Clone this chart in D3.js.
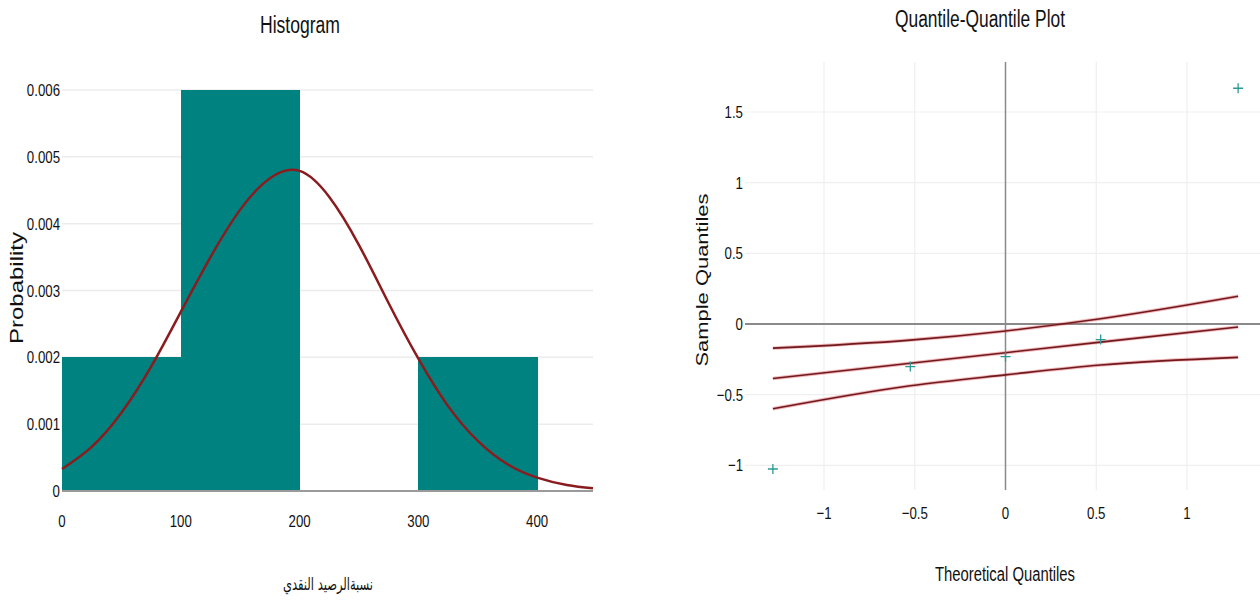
<!DOCTYPE html>
<html>
<head>
<meta charset="utf-8">
<script src="https://cdn.jsdelivr.net/npm/d3@7"></script>
<style>
html,body{margin:0;padding:0;background:#fff;}
svg{display:block;}
.narrow{font-family:"Liberation Sans Narrow","Arial Narrow","Liberation Sans",Arial,sans-serif;fill:#111;}
.wide{font-family:"Liberation Sans",Arial,sans-serif;fill:#111;}
</style>
</head>
<body>
<svg id="chart" width="1260" height="600"></svg>
<script>
// ---------- Histogram data ----------
const binStarts = [0, 100, 200, 300];
const binEnds   = [100, 200, 300, 400];
const binDensity = [0.002, 0.006, 0, 0.002];
const histYTicks = [0, 0.001, 0.002, 0.003, 0.004, 0.005, 0.006];
const histXTicks = [0, 100, 200, 300, 400];
// fitted normal density curve
const curveX = [0, 25, 50, 75, 100, 125, 150, 175, 200, 225, 250, 275, 300, 325, 350, 375, 400, 425, 447];
const curveY = [0.00033, 0.00066, 0.00117, 0.00186, 0.00268, 0.00350, 0.00421, 0.00468, 0.00479, 0.00440, 0.00368, 0.00281, 0.00198, 0.00127, 0.00075, 0.00040, 0.00020, 0.00009, 0.00004];

// ---------- Q-Q data ----------
const theoQ  = [-1.2816, -0.5244, 0, 0.5244, 1.2816];
const sampleQ = [-1.026, -0.301, -0.231, -0.110, 1.668];
const fitLine = [-0.386, -0.278, -0.203, -0.128, -0.021];
const upperBand = [-0.171, -0.114, -0.049, 0.037, 0.196];
const lowerBand = [-0.600, -0.437, -0.360, -0.290, -0.236];
const qqXTicks = [-1, -0.5, 0, 0.5, 1];
const qqYTicks = [-1, -0.5, 0, 0.5, 1, 1.5];

const svg = d3.select("#chart");
const teal = "#008380";
const curveColor = "#8a1c1f";
const SX = 0.78; // horizontal condensing of tick labels

// ================= Histogram =================
const hx = d3.scaleLinear().domain([0, 447]).range([62, 593]);
const hy = d3.scaleLinear().domain([0, 0.006]).range([491, 90]);
const hg = svg.append("g");

// gridlines
hg.selectAll("line.grid").data(histYTicks.filter(d => d > 0)).enter().append("line")
  .attr("x1", hx(0)).attr("x2", hx(447))
  .attr("y1", d => hy(d)).attr("y2", d => hy(d))
  .attr("stroke", "#ececec").attr("stroke-width", 1.5);

// bars
hg.selectAll("rect.bar").data(binStarts.map((s, i) => ({s, e: binEnds[i], v: binDensity[i]}))).enter()
  .append("rect")
  .attr("x", d => hx(d.s)).attr("width", d => hx(d.e) - hx(d.s) + 0.5)
  .attr("y", d => hy(d.v)).attr("height", d => hy(0) - hy(d.v))
  .attr("fill", teal).attr("shape-rendering", "crispEdges");

// baseline
hg.append("line").attr("x1", hx(0)).attr("x2", hx(447)).attr("y1", hy(0)).attr("y2", hy(0))
  .attr("stroke", "#9a9a9a").attr("stroke-width", 2);

// curve
hg.append("path")
  .datum(curveX.map((x, i) => [x, curveY[i]]))
  .attr("d", d3.line().x(d => hx(d[0])).y(d => hy(d[1])).curve(d3.curveNatural))
  .attr("fill", "none").attr("stroke", curveColor).attr("stroke-width", 2.5);

// y tick labels
hg.selectAll("text.yt").data(histYTicks).enter().append("text")
  .attr("class", "narrow").attr("font-size", 17).attr("text-anchor", "end")
  .attr("transform", d => `translate(60,${hy(d) + 6}) scale(${SX},1)`)
  .text(d => d === 0 ? "0" : d3.format(".3f")(d));

// x tick labels
hg.selectAll("text.xt").data(histXTicks).enter().append("text")
  .attr("class", "narrow").attr("font-size", 17).attr("text-anchor", "middle")
  .attr("transform", d => `translate(${hx(d)},527) scale(${SX},1)`)
  .text(d => d);

// title
hg.append("text").attr("class", "narrow").attr("font-size", 23)
  .attr("x", 300).attr("y", 33).attr("text-anchor", "middle")
  .attr("textLength", 80).attr("lengthAdjust", "spacingAndGlyphs")
  .text("Histogram");

// y label
hg.append("text").attr("class", "wide").attr("font-size", 19)
  .attr("transform", "translate(23,288) rotate(-90)").attr("text-anchor", "middle")
  .attr("textLength", 112).attr("lengthAdjust", "spacingAndGlyphs")
  .text("Probability");

// x label
hg.append("text").attr("font-family", "'DejaVu Sans', 'Noto Sans', sans-serif").attr("fill", "#111").attr("font-size", 17)
  .attr("x", 328).attr("y", 590).attr("text-anchor", "middle").attr("direction", "rtl")
  .attr("textLength", 90).attr("lengthAdjust", "spacingAndGlyphs")
  .text("نسبةالرصيد النقدي");

// ================= Q-Q plot =================
const qx = d3.scaleLinear().domain([-1.0, 1.0]).range([824, 1187]);
const qy = d3.scaleLinear().domain([0, 1.5]).range([324, 112]);
const qg = svg.append("g");
const xLeft = 745, xRight = 1260, yTop = 62, yBot = 490;

// vertical gridlines
qg.selectAll("line.vg").data(qqXTicks.filter(d => d !== 0)).enter().append("line")
  .attr("x1", d => qx(d)).attr("x2", d => qx(d)).attr("y1", yTop).attr("y2", yBot)
  .attr("stroke", "#efefef").attr("stroke-width", 1.2);
// horizontal gridlines
qg.selectAll("line.hg").data(qqYTicks.filter(d => d !== 0)).enter().append("line")
  .attr("x1", xLeft).attr("x2", xRight).attr("y1", d => qy(d)).attr("y2", d => qy(d))
  .attr("stroke", "#efefef").attr("stroke-width", 1.2);
// zero lines
qg.append("line").attr("x1", qx(0)).attr("x2", qx(0)).attr("y1", yTop).attr("y2", yBot)
  .attr("stroke", "#8a8a8a").attr("stroke-width", 1.5);
qg.append("line").attr("x1", xLeft).attr("x2", xRight).attr("y1", qy(0)).attr("y2", qy(0))
  .attr("stroke", "#8a8a8a").attr("stroke-width", 2);

// fitted line and bands
const qline = d3.line().x(d => qx(d[0])).y(d => qy(d[1])).curve(d3.curveMonotoneX);
[upperBand, fitLine, lowerBand].forEach(arr => {
  qg.append("path").datum(theoQ.map((t, i) => [t, arr[i]]))
    .attr("d", qline).attr("fill", "none")
    .attr("stroke", "#e0303a").attr("stroke-opacity", 0.35).attr("stroke-width", 3.5);
  qg.append("path").datum(theoQ.map((t, i) => [t, arr[i]]))
    .attr("d", qline).attr("fill", "none")
    .attr("stroke", "#6e1a1e").attr("stroke-width", 1.6);
});

// points as "+"
const crossPath = (cx, cy) => `M${cx - 5},${cy}H${cx + 5}M${cx},${cy - 5}V${cy + 5}`;
qg.selectAll("path.pt").data(theoQ.map((t, i) => [t, sampleQ[i]])).enter().append("path")
  .attr("d", d => crossPath(qx(d[0]), qy(d[1])))
  .attr("stroke", "#2a9a96").attr("stroke-width", 1.3).attr("fill", "none");

// tick labels
qg.selectAll("text.qxt").data(qqXTicks).enter().append("text")
  .attr("class", "narrow").attr("font-size", 17).attr("text-anchor", "middle")
  .attr("transform", d => `translate(${qx(d)},519) scale(${SX},1)`)
  .text(d => d < 0 ? "\u2212" + Math.abs(d) : d);
qg.selectAll("text.qyt").data(qqYTicks).enter().append("text")
  .attr("class", "narrow").attr("font-size", 17).attr("text-anchor", "end")
  .attr("transform", d => `translate(743,${qy(d) + 6}) scale(${SX},1)`)
  .text(d => d < 0 ? "\u2212" + Math.abs(d) : d);

// title
qg.append("text").attr("class", "narrow").attr("font-size", 23)
  .attr("x", 980).attr("y", 27).attr("text-anchor", "middle")
  .attr("textLength", 170).attr("lengthAdjust", "spacingAndGlyphs")
  .text("Quantile-Quantile Plot");

// axis titles
qg.append("text").attr("class", "narrow").attr("font-size", 20)
  .attr("x", 1005).attr("y", 581).attr("text-anchor", "middle")
  .attr("textLength", 140).attr("lengthAdjust", "spacingAndGlyphs")
  .text("Theoretical Quantiles");
qg.append("text").attr("class", "wide").attr("font-size", 17)
  .attr("transform", "translate(708,280) rotate(-90)").attr("text-anchor", "middle")
  .attr("textLength", 173).attr("lengthAdjust", "spacingAndGlyphs")
  .text("Sample Quantiles");
</script>
</body>
</html>
